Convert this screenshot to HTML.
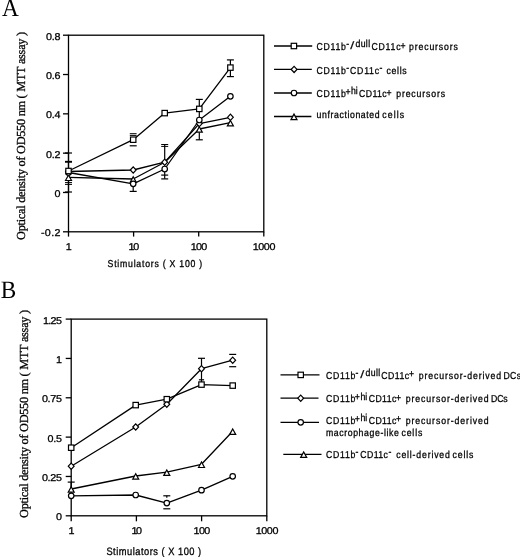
<!DOCTYPE html>
<html><head><meta charset="utf-8"><title>Figure</title>
<style>
html,body{margin:0;padding:0;background:#fff;}
svg{display:block}
text{fill:#000;text-rendering:geometricPrecision}
.sn{font-family:"Liberation Sans", Arial, Helvetica, sans-serif;font-size:10.0px;stroke:#000;stroke-width:.3px}
.tk{font-family:"Liberation Sans", Arial, Helvetica, sans-serif;font-size:9.9px;stroke:#000;stroke-width:.28px}
.yt{font-family:"Liberation Serif", "Times New Roman", serif;font-size:12.3px;stroke:#000;stroke-width:.3px}
.pl{font-family:"Liberation Serif", "Times New Roman", serif;font-size:25px}
</style></head><body>
<svg width="520" height="557" viewBox="0 0 520 557">
<rect width="520" height="557" fill="#fff"/>
<rect x="68.5" y="35.2" width="195.30" height="196.60" fill="none" stroke="#000" stroke-width="1.3"/>
<line x1="63.0" y1="35.20" x2="68.5" y2="35.20" stroke="#000" stroke-width="1.3"/>
<text transform="translate(45.90,40.00) scale(1.09,1)" class="tk" textLength="13.30" lengthAdjust="spacing">0.8</text>
<line x1="63.0" y1="74.52" x2="68.5" y2="74.52" stroke="#000" stroke-width="1.3"/>
<text transform="translate(45.90,79.00) scale(1.09,1)" class="tk" textLength="13.30" lengthAdjust="spacing">0.6</text>
<line x1="63.0" y1="113.84" x2="68.5" y2="113.84" stroke="#000" stroke-width="1.3"/>
<text transform="translate(45.90,118.00) scale(1.09,1)" class="tk" textLength="13.30" lengthAdjust="spacing">0.4</text>
<line x1="63.0" y1="153.16" x2="68.5" y2="153.16" stroke="#000" stroke-width="1.3"/>
<text transform="translate(45.90,158.00) scale(1.09,1)" class="tk" textLength="13.30" lengthAdjust="spacing">0.2</text>
<line x1="63.0" y1="192.48" x2="68.5" y2="192.48" stroke="#000" stroke-width="1.3"/>
<text transform="translate(54.40,197.00) scale(1.09,1)" class="tk">0</text>
<line x1="63.0" y1="231.80" x2="68.5" y2="231.80" stroke="#000" stroke-width="1.3"/>
<text transform="translate(41.00,236.00) scale(1.09,1)" class="tk" textLength="17.80" lengthAdjust="spacing">-0.2</text>
<line x1="68.50" y1="231.8" x2="68.50" y2="236.60000000000002" stroke="#000" stroke-width="1.3"/>
<text transform="translate(65.80,250.00) scale(1.09,1)" class="tk">1</text>
<line x1="133.60" y1="231.8" x2="133.60" y2="236.60000000000002" stroke="#000" stroke-width="1.3"/>
<text transform="translate(128.60,250.00) scale(1.09,1)" class="tk" textLength="9.72" lengthAdjust="spacing">10</text>
<line x1="198.70" y1="231.8" x2="198.70" y2="236.60000000000002" stroke="#000" stroke-width="1.3"/>
<text transform="translate(190.70,250.00) scale(1.09,1)" class="tk" textLength="15.23" lengthAdjust="spacing">100</text>
<line x1="263.80" y1="231.8" x2="263.80" y2="236.60000000000002" stroke="#000" stroke-width="1.3"/>
<text transform="translate(252.80,250.00) scale(1.09,1)" class="tk" textLength="20.73" lengthAdjust="spacing">1000</text>
<line x1="68.50" y1="153" x2="68.50" y2="192" stroke="#000" stroke-width="1.2"/>
<line x1="133.20" y1="187" x2="133.20" y2="191.4" stroke="#000" stroke-width="1.2"/>
<line x1="164.70" y1="144.6" x2="164.70" y2="162" stroke="#000" stroke-width="1.2"/>
<line x1="164.70" y1="172" x2="164.70" y2="178.8" stroke="#000" stroke-width="1.2"/>
<line x1="199.30" y1="99.4" x2="199.30" y2="139.8" stroke="#000" stroke-width="1.2"/>
<line x1="230.40" y1="59.9" x2="230.40" y2="76.6" stroke="#000" stroke-width="1.2"/>
<line x1="65.00" y1="153" x2="72.00" y2="153" stroke="#000" stroke-width="1.2"/>
<line x1="65.00" y1="161.8" x2="72.00" y2="161.8" stroke="#000" stroke-width="1.9"/>
<line x1="65.00" y1="182.6" x2="72.00" y2="182.6" stroke="#000" stroke-width="1.0"/>
<line x1="65.00" y1="184.4" x2="72.00" y2="184.4" stroke="#000" stroke-width="1.0"/>
<line x1="65.00" y1="192" x2="72.00" y2="192" stroke="#000" stroke-width="1.2"/>
<line x1="129.80" y1="133.7" x2="136.60" y2="133.7" stroke="#000" stroke-width="1.0"/>
<line x1="129.80" y1="135.4" x2="136.60" y2="135.4" stroke="#000" stroke-width="1.0"/>
<line x1="129.70" y1="145.8" x2="136.70" y2="145.8" stroke="#000" stroke-width="1.2"/>
<line x1="129.70" y1="191.4" x2="136.70" y2="191.4" stroke="#000" stroke-width="1.2"/>
<line x1="161.20" y1="144.5" x2="168.20" y2="144.5" stroke="#000" stroke-width="1.0"/>
<line x1="161.20" y1="146.4" x2="168.20" y2="146.4" stroke="#000" stroke-width="1.0"/>
<line x1="161.20" y1="175.1" x2="168.20" y2="175.1" stroke="#000" stroke-width="1.2"/>
<line x1="161.20" y1="178.9" x2="168.20" y2="178.9" stroke="#000" stroke-width="1.2"/>
<line x1="195.80" y1="99.4" x2="202.80" y2="99.4" stroke="#000" stroke-width="1.2"/>
<line x1="195.80" y1="139.8" x2="202.80" y2="139.8" stroke="#000" stroke-width="1.2"/>
<line x1="226.90" y1="59.9" x2="233.90" y2="59.9" stroke="#000" stroke-width="1.2"/>
<line x1="226.90" y1="76.6" x2="233.90" y2="76.6" stroke="#000" stroke-width="1.2"/>
<polyline points="68.50,177.3 133.20,179 164.70,162.2 199.30,129 230.40,122.7" fill="none" stroke="#000" stroke-width="1.3" stroke-linejoin="round"/>
<polyline points="68.50,171.5 133.20,170 164.70,162.2 199.30,123.6 230.40,117.3" fill="none" stroke="#000" stroke-width="1.3" stroke-linejoin="round"/>
<polyline points="68.50,172.5 133.20,183.8 164.70,169 199.30,120 230.40,96.3" fill="none" stroke="#000" stroke-width="1.3" stroke-linejoin="round"/>
<polyline points="68.50,171 133.20,139.7 164.70,113.1 199.30,108.9 230.40,67.6" fill="none" stroke="#000" stroke-width="1.3" stroke-linejoin="round"/>
<path d="M65.50 180.50L68.50 175.00L71.50 180.50Z" fill="#fff" stroke="#000" stroke-width="1.2"/>
<path d="M130.20 182.20L133.20 176.70L136.20 182.20Z" fill="#fff" stroke="#000" stroke-width="1.2"/>
<path d="M196.30 132.20L199.30 126.70L202.30 132.20Z" fill="#fff" stroke="#000" stroke-width="1.2"/>
<path d="M227.40 125.90L230.40 120.40L233.40 125.90Z" fill="#fff" stroke="#000" stroke-width="1.2"/>
<path d="M65.60 171.50L68.50 168.40L71.40 171.50L68.50 174.60Z" fill="#fff" stroke="#000" stroke-width="1.2"/>
<path d="M130.30 170.00L133.20 166.90L136.10 170.00L133.20 173.10Z" fill="#fff" stroke="#000" stroke-width="1.2"/>
<path d="M161.80 162.20L164.70 159.10L167.60 162.20L164.70 165.30Z" fill="#fff" stroke="#000" stroke-width="1.2"/>
<path d="M196.40 123.60L199.30 120.50L202.20 123.60L199.30 126.70Z" fill="#fff" stroke="#000" stroke-width="1.2"/>
<path d="M227.50 117.30L230.40 114.20L233.30 117.30L230.40 120.40Z" fill="#fff" stroke="#000" stroke-width="1.2"/>
<circle cx="68.50" cy="172.50" r="2.75" fill="#fff" stroke="#000" stroke-width="1.2"/>
<circle cx="133.20" cy="183.80" r="2.75" fill="#fff" stroke="#000" stroke-width="1.2"/>
<circle cx="164.70" cy="169.00" r="2.75" fill="#fff" stroke="#000" stroke-width="1.2"/>
<circle cx="199.30" cy="120.00" r="2.75" fill="#fff" stroke="#000" stroke-width="1.2"/>
<circle cx="230.40" cy="96.30" r="2.75" fill="#fff" stroke="#000" stroke-width="1.2"/>
<rect x="65.80" y="168.30" width="5.4" height="5.4" fill="#fff" stroke="#000" stroke-width="1.2"/>
<rect x="130.50" y="137.00" width="5.4" height="5.4" fill="#fff" stroke="#000" stroke-width="1.2"/>
<rect x="162.00" y="110.40" width="5.4" height="5.4" fill="#fff" stroke="#000" stroke-width="1.2"/>
<rect x="196.60" y="106.20" width="5.4" height="5.4" fill="#fff" stroke="#000" stroke-width="1.2"/>
<rect x="227.70" y="64.90" width="5.4" height="5.4" fill="#fff" stroke="#000" stroke-width="1.2"/>
<rect x="71.2" y="319.1" width="195.60" height="196.70" fill="none" stroke="#000" stroke-width="1.3"/>
<line x1="65.7" y1="319.10" x2="71.2" y2="319.10" stroke="#000" stroke-width="1.3"/>
<text transform="translate(43.00,324.00) scale(1.09,1)" class="tk" textLength="17.34" lengthAdjust="spacing">1.25</text>
<line x1="65.7" y1="358.44" x2="71.2" y2="358.44" stroke="#000" stroke-width="1.3"/>
<text transform="translate(55.90,363.00) scale(1.09,1)" class="tk">1</text>
<line x1="65.7" y1="397.78" x2="71.2" y2="397.78" stroke="#000" stroke-width="1.3"/>
<text transform="translate(41.90,402.00) scale(1.09,1)" class="tk" textLength="18.35" lengthAdjust="spacing">0.75</text>
<line x1="65.7" y1="437.12" x2="71.2" y2="437.12" stroke="#000" stroke-width="1.3"/>
<text transform="translate(47.40,442.00) scale(1.09,1)" class="tk" textLength="13.30" lengthAdjust="spacing">0.5</text>
<line x1="65.7" y1="476.46" x2="71.2" y2="476.46" stroke="#000" stroke-width="1.3"/>
<text transform="translate(41.90,481.00) scale(1.09,1)" class="tk" textLength="18.35" lengthAdjust="spacing">0.25</text>
<line x1="65.7" y1="515.80" x2="71.2" y2="515.80" stroke="#000" stroke-width="1.3"/>
<text transform="translate(55.90,520.00) scale(1.09,1)" class="tk">0</text>
<line x1="71.20" y1="515.8" x2="71.20" y2="521.3" stroke="#000" stroke-width="1.3"/>
<text transform="translate(68.50,534.00) scale(1.09,1)" class="tk">1</text>
<line x1="136.40" y1="515.8" x2="136.40" y2="521.3" stroke="#000" stroke-width="1.3"/>
<text transform="translate(131.40,534.00) scale(1.09,1)" class="tk" textLength="9.72" lengthAdjust="spacing">10</text>
<line x1="201.60" y1="515.8" x2="201.60" y2="521.3" stroke="#000" stroke-width="1.3"/>
<text transform="translate(193.60,534.00) scale(1.09,1)" class="tk" textLength="15.23" lengthAdjust="spacing">100</text>
<line x1="266.80" y1="515.8" x2="266.80" y2="521.3" stroke="#000" stroke-width="1.3"/>
<text transform="translate(255.80,534.00) scale(1.09,1)" class="tk" textLength="20.73" lengthAdjust="spacing">1000</text>
<line x1="71.20" y1="482.1" x2="71.20" y2="490" stroke="#000" stroke-width="1.2"/>
<line x1="166.80" y1="495.8" x2="166.80" y2="497.8" stroke="#000" stroke-width="1.2"/>
<line x1="201.50" y1="358.3" x2="201.50" y2="384" stroke="#000" stroke-width="1.2"/>
<line x1="67.70" y1="482.1" x2="74.70" y2="482.1" stroke="#000" stroke-width="1.2"/>
<line x1="163.30" y1="495.8" x2="170.30" y2="495.8" stroke="#000" stroke-width="1.2"/>
<line x1="163.30" y1="508.8" x2="170.30" y2="508.8" stroke="#000" stroke-width="1.2"/>
<line x1="198.00" y1="358.3" x2="205.00" y2="358.3" stroke="#000" stroke-width="1.2"/>
<line x1="198.90" y1="379.8" x2="204.10" y2="379.8" stroke="#000" stroke-width="1.2"/>
<line x1="229.20" y1="354.4" x2="236.20" y2="354.4" stroke="#000" stroke-width="1.2"/>
<line x1="229.20" y1="366.7" x2="236.20" y2="366.7" stroke="#000" stroke-width="1.2"/>
<polyline points="71.20,489.0 135.70,476 166.80,472.2 201.50,464.3 232.70,431.2" fill="none" stroke="#000" stroke-width="1.3" stroke-linejoin="round"/>
<polyline points="71.20,495.8 135.70,495 166.80,503.1 201.50,490.2 232.70,476.3" fill="none" stroke="#000" stroke-width="1.3" stroke-linejoin="round"/>
<polyline points="71.20,466.2 135.70,427 166.80,404.2 201.50,368.7 232.70,360.2" fill="none" stroke="#000" stroke-width="1.3" stroke-linejoin="round"/>
<polyline points="71.20,447.7 135.70,405.1 166.80,399.2 201.50,384.6 232.70,385.6" fill="none" stroke="#000" stroke-width="1.3" stroke-linejoin="round"/>
<path d="M68.20 492.20L71.20 486.70L74.20 492.20Z" fill="#fff" stroke="#000" stroke-width="1.2"/>
<path d="M132.70 479.20L135.70 473.70L138.70 479.20Z" fill="#fff" stroke="#000" stroke-width="1.2"/>
<path d="M163.80 475.40L166.80 469.90L169.80 475.40Z" fill="#fff" stroke="#000" stroke-width="1.2"/>
<path d="M198.50 467.50L201.50 462.00L204.50 467.50Z" fill="#fff" stroke="#000" stroke-width="1.2"/>
<path d="M229.70 434.40L232.70 428.90L235.70 434.40Z" fill="#fff" stroke="#000" stroke-width="1.2"/>
<circle cx="71.20" cy="495.80" r="2.75" fill="#fff" stroke="#000" stroke-width="1.2"/>
<circle cx="135.70" cy="495.00" r="2.75" fill="#fff" stroke="#000" stroke-width="1.2"/>
<circle cx="166.80" cy="503.10" r="2.75" fill="#fff" stroke="#000" stroke-width="1.2"/>
<circle cx="201.50" cy="490.20" r="2.75" fill="#fff" stroke="#000" stroke-width="1.2"/>
<circle cx="232.70" cy="476.30" r="2.75" fill="#fff" stroke="#000" stroke-width="1.2"/>
<path d="M68.30 466.20L71.20 463.10L74.10 466.20L71.20 469.30Z" fill="#fff" stroke="#000" stroke-width="1.2"/>
<path d="M132.80 427.00L135.70 423.90L138.60 427.00L135.70 430.10Z" fill="#fff" stroke="#000" stroke-width="1.2"/>
<path d="M163.90 404.20L166.80 401.10L169.70 404.20L166.80 407.30Z" fill="#fff" stroke="#000" stroke-width="1.2"/>
<path d="M198.60 368.70L201.50 365.60L204.40 368.70L201.50 371.80Z" fill="#fff" stroke="#000" stroke-width="1.2"/>
<path d="M229.80 360.20L232.70 357.10L235.60 360.20L232.70 363.30Z" fill="#fff" stroke="#000" stroke-width="1.2"/>
<rect x="68.50" y="445.00" width="5.4" height="5.4" fill="#fff" stroke="#000" stroke-width="1.2"/>
<rect x="133.00" y="402.40" width="5.4" height="5.4" fill="#fff" stroke="#000" stroke-width="1.2"/>
<rect x="164.10" y="396.50" width="5.4" height="5.4" fill="#fff" stroke="#000" stroke-width="1.2"/>
<rect x="198.80" y="381.90" width="5.4" height="5.4" fill="#fff" stroke="#000" stroke-width="1.2"/>
<rect x="230.00" y="382.90" width="5.4" height="5.4" fill="#fff" stroke="#000" stroke-width="1.2"/>
<text transform="translate(107.60,267.20) scale(0.87,1)" class="sn" textLength="108.74" lengthAdjust="spacing">Stimulators ( X 100 )</text>
<text transform="translate(106.40,554.80) scale(0.87,1)" class="sn" textLength="108.97" lengthAdjust="spacing" style="font-size:10.7px">Stimulators ( X 100 )</text>
<text transform="translate(24.5,135.9) rotate(-90)" text-anchor="middle" class="yt" textLength="208" lengthAdjust="spacing">Optical density of OD550 nm ( MTT assay )</text>
<text transform="translate(27.5,413.9) rotate(-90)" text-anchor="middle" class="yt" textLength="208" lengthAdjust="spacing">Optical density of OD550 nm ( MTT assay )</text>
<text transform="translate(2.0,15.8) scale(0.93,1)" class="pl">A</text>
<text transform="translate(0.7,297.8) scale(0.93,1)" class="pl">B</text>
<line x1="274.0" y1="46.0" x2="312.2" y2="46.0" stroke="#000" stroke-width="1.3"/>
<rect x="291.20" y="43.30" width="5.4" height="5.4" fill="#fff" stroke="#000" stroke-width="1.2"/>
<line x1="274.0" y1="69.4" x2="311.8" y2="69.4" stroke="#000" stroke-width="1.3"/>
<path d="M291.20 69.40L294.10 66.30L297.00 69.40L294.10 72.50Z" fill="#fff" stroke="#000" stroke-width="1.2"/>
<line x1="274.0" y1="93.0" x2="311.8" y2="93.0" stroke="#000" stroke-width="1.3"/>
<circle cx="294.00" cy="93.00" r="2.75" fill="#fff" stroke="#000" stroke-width="1.2"/>
<line x1="274.0" y1="116.5" x2="311.4" y2="116.5" stroke="#000" stroke-width="1.3"/>
<path d="M291.00 119.60L294.00 114.10L297.00 119.60Z" fill="#fff" stroke="#000" stroke-width="1.2"/>
<text transform="translate(316.60,50.00) scale(0.87,1)" class="sn" textLength="33.68" lengthAdjust="spacing">CD11b</text>
<text transform="translate(346.20,47.00) scale(0.87,1)" class="sn">-</text>
<text transform="translate(350.20,48.60) scale(1.45,1.08)" class="sn" style="stroke-width:.12px">/</text>
<text transform="translate(355.50,47.40) scale(0.87,1)" class="sn" textLength="16.78" lengthAdjust="spacing">dull</text>
<text transform="translate(371.40,50.00) scale(0.87,1)" class="sn" textLength="33.56" lengthAdjust="spacing">CD11c</text>
<text transform="translate(400.60,48.50) scale(0.87,1)" class="sn">+</text>
<text transform="translate(409.00,50.00) scale(0.87,1)" class="sn" textLength="56.21" lengthAdjust="spacing">precursors</text>
<text transform="translate(316.60,73.60) scale(0.87,1)" class="sn" textLength="33.68" lengthAdjust="spacing">CD11b</text>
<text transform="translate(346.20,70.60) scale(0.87,1)" class="sn">-</text>
<text transform="translate(350.10,73.60) scale(0.87,1)" class="sn" textLength="33.22" lengthAdjust="spacing">CD11c</text>
<text transform="translate(379.40,70.60) scale(0.87,1)" class="sn">-</text>
<text transform="translate(386.50,73.60) scale(0.87,1)" class="sn" textLength="23.10" lengthAdjust="spacing">cells</text>
<text transform="translate(316.60,97.20) scale(0.87,1)" class="sn" textLength="33.68" lengthAdjust="spacing">CD11b</text>
<text transform="translate(345.40,95.20) scale(0.87,1)" class="sn">+</text>
<text transform="translate(351.00,94.40) scale(0.87,1)" class="sn">hi</text>
<text transform="translate(359.00,97.20) scale(0.87,1)" class="sn" textLength="31.84" lengthAdjust="spacing">CD11c</text>
<text transform="translate(386.40,95.70) scale(0.87,1)" class="sn">+</text>
<text transform="translate(396.20,97.20) scale(0.87,1)" class="sn" textLength="56.09" lengthAdjust="spacing">precursors</text>
<text transform="translate(316.60,117.50) scale(0.87,1)" class="sn" textLength="72.41" lengthAdjust="spacing">unfractionated</text>
<text transform="translate(382.30,117.50) scale(0.87,1)" class="sn" textLength="25.06" lengthAdjust="spacing">cells</text>
<line x1="280.5" y1="374.9" x2="319.5" y2="374.9" stroke="#000" stroke-width="1.3"/>
<rect x="298.00" y="372.20" width="5.4" height="5.4" fill="#fff" stroke="#000" stroke-width="1.2"/>
<line x1="280.5" y1="398.2" x2="318.5" y2="398.2" stroke="#000" stroke-width="1.3"/>
<path d="M297.80 398.20L300.70 395.10L303.60 398.20L300.70 401.30Z" fill="#fff" stroke="#000" stroke-width="1.2"/>
<line x1="280.5" y1="422.3" x2="319.0" y2="422.3" stroke="#000" stroke-width="1.3"/>
<circle cx="300.70" cy="422.30" r="2.75" fill="#fff" stroke="#000" stroke-width="1.2"/>
<line x1="283.3" y1="454.3" x2="321.5" y2="454.3" stroke="#000" stroke-width="1.3"/>
<path d="M300.70 457.40L303.70 451.90L306.70 457.40Z" fill="#fff" stroke="#000" stroke-width="1.2"/>
<text transform="translate(325.90,378.90) scale(0.87,1)" class="sn" textLength="33.79" lengthAdjust="spacing">CD11b</text>
<text transform="translate(355.50,375.90) scale(0.87,1)" class="sn">-</text>
<text transform="translate(360.30,377.50) scale(1.45,1.08)" class="sn" style="stroke-width:.12px">/</text>
<text transform="translate(365.60,376.30) scale(0.87,1)" class="sn" textLength="16.90" lengthAdjust="spacing">dull</text>
<text transform="translate(381.30,378.90) scale(0.87,1)" class="sn" textLength="31.84" lengthAdjust="spacing">CD11c</text>
<text transform="translate(409.00,377.40) scale(0.87,1)" class="sn">+</text>
<text transform="translate(418.80,378.90) scale(0.87,1)" class="sn" textLength="94.48" lengthAdjust="spacing">precursor-derived</text>
<text transform="translate(503.40,378.90) scale(0.87,1)" class="sn" textLength="20.23" lengthAdjust="spacing">DCs</text>
<text transform="translate(325.90,402.30) scale(0.87,1)" class="sn" textLength="33.79" lengthAdjust="spacing">CD11b</text>
<text transform="translate(354.80,400.30) scale(0.87,1)" class="sn">+</text>
<text transform="translate(360.40,399.50) scale(0.87,1)" class="sn">hi</text>
<text transform="translate(368.70,402.30) scale(0.87,1)" class="sn" textLength="31.72" lengthAdjust="spacing">CD11c</text>
<text transform="translate(396.00,400.80) scale(0.87,1)" class="sn">+</text>
<text transform="translate(405.70,402.30) scale(0.87,1)" class="sn" textLength="95.29" lengthAdjust="spacing">precursor-derived</text>
<text transform="translate(491.10,402.30) scale(0.87,1)" class="sn" textLength="18.97" lengthAdjust="spacing">DCs</text>
<text transform="translate(325.90,423.60) scale(0.87,1)" class="sn" textLength="33.79" lengthAdjust="spacing">CD11b</text>
<text transform="translate(354.80,421.60) scale(0.87,1)" class="sn">+</text>
<text transform="translate(360.40,420.80) scale(0.87,1)" class="sn">hi</text>
<text transform="translate(368.70,423.60) scale(0.87,1)" class="sn" textLength="31.72" lengthAdjust="spacing">CD11c</text>
<text transform="translate(396.00,422.10) scale(0.87,1)" class="sn">+</text>
<text transform="translate(405.70,423.60) scale(0.87,1)" class="sn" textLength="95.29" lengthAdjust="spacing">precursor-derived</text>
<text transform="translate(325.90,435.70) scale(0.87,1)" class="sn" textLength="83.91" lengthAdjust="spacing">macrophage-like</text>
<text transform="translate(401.40,435.70) scale(0.87,1)" class="sn" textLength="24.14" lengthAdjust="spacing">cells</text>
<text transform="translate(325.90,458.10) scale(0.87,1)" class="sn" textLength="33.79" lengthAdjust="spacing">CD11b</text>
<text transform="translate(355.50,455.10) scale(0.87,1)" class="sn">-</text>
<text transform="translate(360.20,458.10) scale(0.87,1)" class="sn" textLength="31.84" lengthAdjust="spacing">CD11c</text>
<text transform="translate(388.40,455.10) scale(0.87,1)" class="sn">-</text>
<text transform="translate(396.20,458.10) scale(0.87,1)" class="sn" textLength="61.72" lengthAdjust="spacing">cell-derived</text>
<text transform="translate(452.60,458.10) scale(0.87,1)" class="sn" textLength="23.91" lengthAdjust="spacing">cells</text>
</svg>
</body></html>
